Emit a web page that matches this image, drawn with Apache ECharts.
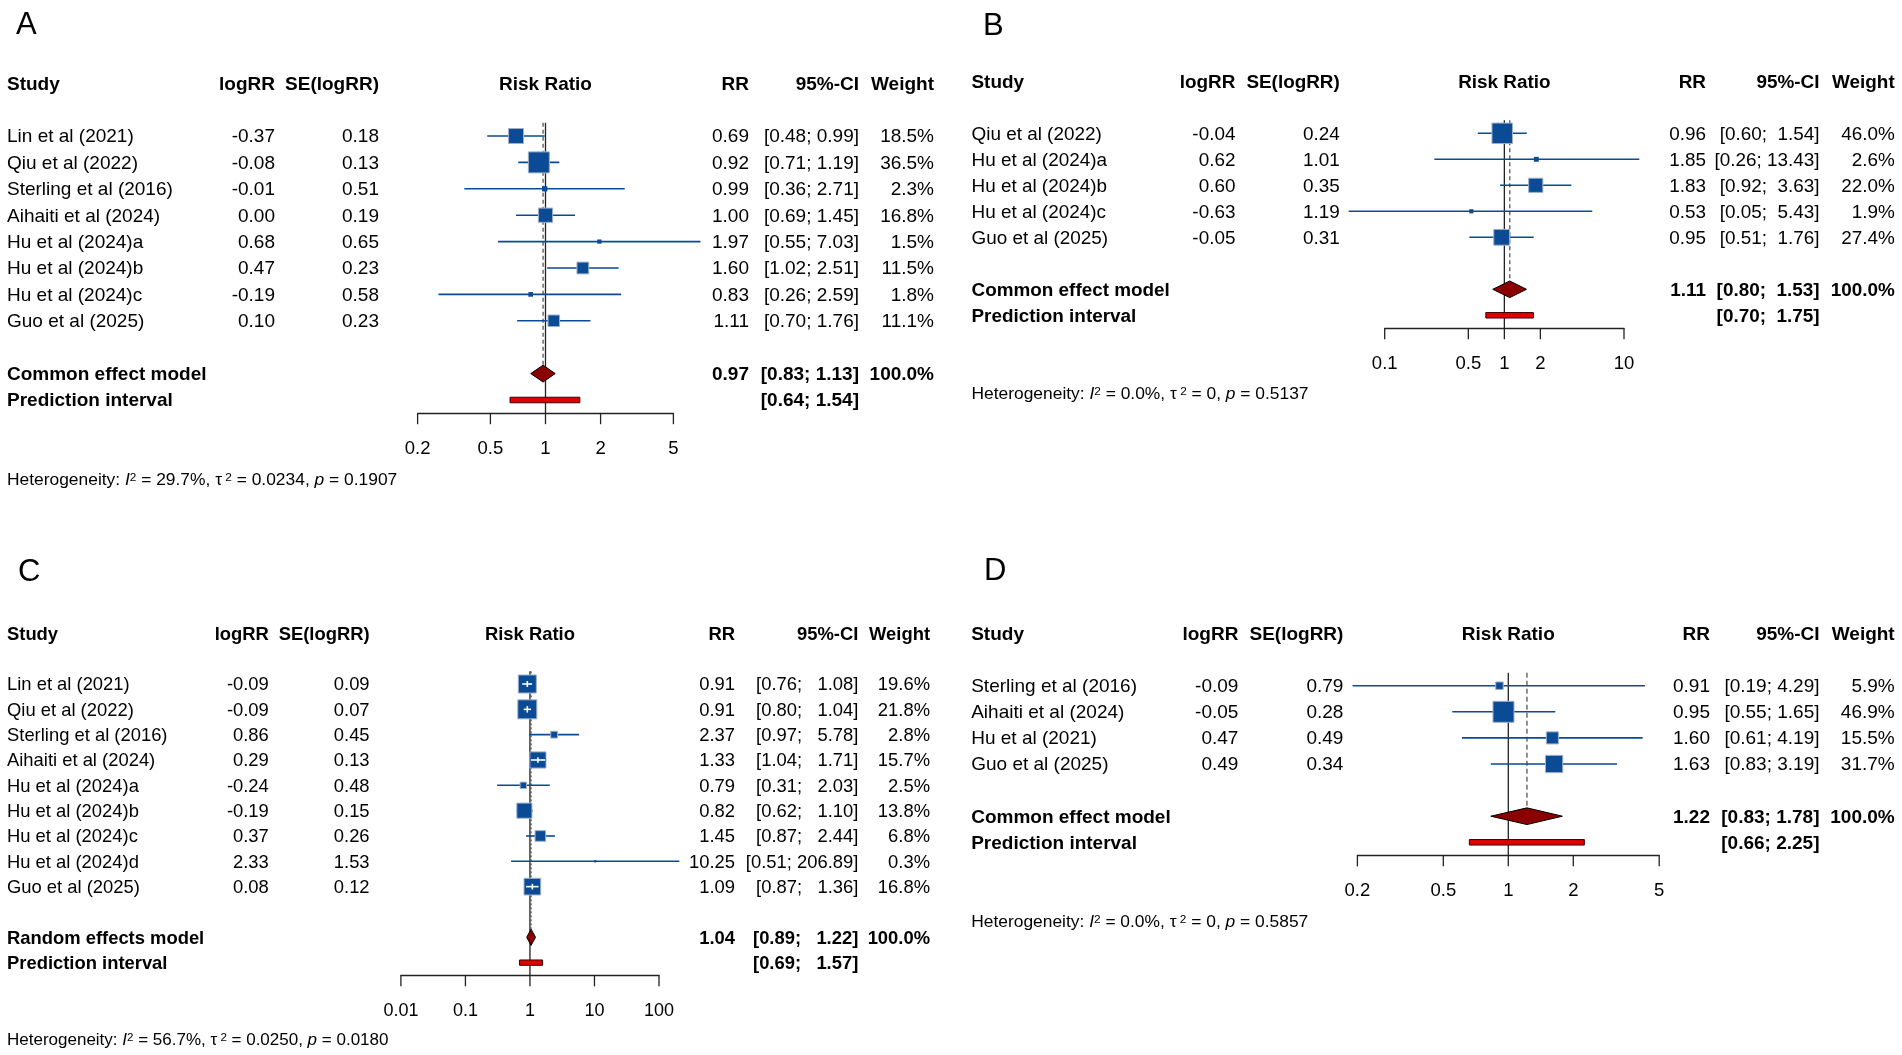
<!DOCTYPE html>
<html><head><meta charset="utf-8">
<script src="https://cdn.jsdelivr.net/npm/echarts@6/dist/echarts.min.js"></script>
<style>html,body{margin:0;padding:0;background:#fff}#chart{width:1902px;height:1055px}</style>
</head><body><div id="chart"></div>
<script>
// ---------- Panel A ----------
const studiesA = ["Lin et al (2021)", "Qiu et al (2022)", "Sterling et al (2016)", "Aihaiti et al (2024)", "Hu et al (2024)a", "Hu et al (2024)b", "Hu et al (2024)c", "Guo et al (2025)"];
const logRRA = [-0.37, -0.08, -0.01, 0.00, 0.68, 0.47, -0.19, 0.10];
const seA = [0.18, 0.13, 0.51, 0.19, 0.65, 0.23, 0.58, 0.23];
const rrA = [0.69, 0.92, 0.99, 1.00, 1.97, 1.60, 0.83, 1.11];
const loA = [0.48, 0.71, 0.36, 0.69, 0.55, 1.02, 0.26, 0.70];
const hiA = [0.99, 1.19, 2.71, 1.45, 7.03, 2.51, 2.59, 1.76];
const weightA = [18.5, 36.5, 2.3, 16.8, 1.5, 11.5, 1.8, 11.1];
const pooledA = [0.97, 0.83, 1.13];
const predA = [0.64, 1.54];
const hetA = ["29.7%", "0.0234", "0.1907"];
const ticksA = [0.2, 0.5, 1, 2, 5];
const modelA = "Common effect model";

// ---------- Panel B ----------
const studiesB = ["Qiu et al (2022)", "Hu et al (2024)a", "Hu et al (2024)b", "Hu et al (2024)c", "Guo et al (2025)"];
const logRRB = [-0.04, 0.62, 0.60, -0.63, -0.05];
const seB = [0.24, 1.01, 0.35, 1.19, 0.31];
const rrB = [0.96, 1.85, 1.83, 0.53, 0.95];
const loB = [0.60, 0.26, 0.92, 0.05, 0.51];
const hiB = [1.54, 13.43, 3.63, 5.43, 1.76];
const weightB = [46.0, 2.6, 22.0, 1.9, 27.4];
const pooledB = [1.11, 0.80, 1.53];
const predB = [0.70, 1.75];
const hetB = ["0.0%", "0", "0.5137"];
const ticksB = [0.1, 0.5, 1, 2, 10];
const modelB = "Common effect model";

// ---------- Panel C ----------
const studiesC = ["Lin et al (2021)", "Qiu et al (2022)", "Sterling et al (2016)", "Aihaiti et al (2024)", "Hu et al (2024)a", "Hu et al (2024)b", "Hu et al (2024)c", "Hu et al (2024)d", "Guo et al (2025)"];
const logRRC = [-0.09, -0.09, 0.86, 0.29, -0.24, -0.19, 0.37, 2.33, 0.08];
const seC = [0.09, 0.07, 0.45, 0.13, 0.48, 0.15, 0.26, 1.53, 0.12];
const rrC = [0.91, 0.91, 2.37, 1.33, 0.79, 0.82, 1.45, 10.25, 1.09];
const loC = [0.76, 0.80, 0.97, 1.04, 0.31, 0.62, 0.87, 0.51, 0.87];
const hiC = [1.08, 1.04, 5.78, 1.71, 2.03, 1.10, 2.44, 206.89, 1.36];
const weightC = [19.6, 21.8, 2.8, 15.7, 2.5, 13.8, 6.8, 0.3, 16.8];
const pooledC = [1.04, 0.89, 1.22];
const predC = [0.69, 1.57];
const hetC = ["56.7%", "0.0250", "0.0180"];
const ticksC = [0.01, 0.1, 1, 10, 100];
const modelC = "Random effects model";

// ---------- Panel D ----------
const studiesD = ["Sterling et al (2016)", "Aihaiti et al (2024)", "Hu et al (2021)", "Guo et al (2025)"];
const logRRD = [-0.09, -0.05, 0.47, 0.49];
const seD = [0.79, 0.28, 0.49, 0.34];
const rrD = [0.91, 0.95, 1.60, 1.63];
const loD = [0.19, 0.55, 0.61, 0.83];
const hiD = [4.29, 1.65, 4.19, 3.19];
const weightD = [5.9, 46.9, 15.5, 31.7];
const pooledD = [1.22, 0.83, 1.78];
const predD = [0.66, 2.25];
const hetD = ["0.0%", "0", "0.5857"];
const ticksD = [0.2, 0.5, 1, 2, 5];
const modelD = "Common effect model";

// ---------- layout (pixels) ----------
const FONT = '"Liberation Sans", Arial, Helvetica, sans-serif';
const BLUE = '#0B4A95';
const TY = 1.2; // small downward nudge for text visual centring
const layouts = {
  A: {letter:[16,24], cols:{study:7, logRR:275, se:379, rr:749, ci:859, w:934}, xpx:[417.6,673.4], row0:136, step:26.4, fs:19, hetFs:17.4, tickFs:18.5, sqMax:21, dash:[4,3]},
  B: {letter:[983,25], cols:{study:971.5, logRR:1235.4, se:1339.8, rr:1706, ci:1819.5, w:1894.7}, xpx:[1384.7,1624], row0:133.3, step:26, fs:18.9, hetFs:17.4, tickFs:18.5, sqMax:20.5, dash:[4,3]},
  C: {letter:[18,571.5], cols:{study:7, logRR:268.8, se:369.6, rr:735, ci:858.3, w:930}, xpx:[400.9,659], row0:684, step:25.33, fs:18.4, hetFs:17, tickFs:18, sqMax:19, dash:[2,2]},
  D: {letter:[984,570.5], cols:{study:971.2, logRR:1238.4, se:1343.4, rr:1710, ci:1819.5, w:1894.7}, xpx:[1357.4,1659.2], row0:685.7, step:26.1, fs:19, hetFs:17.4, tickFs:18.5, sqMax:21, dash:[5,3]}
};

const panels = [
  {key:'A', studies:studiesA, logRR:logRRA, se:seA, rr:rrA, lo:loA, hi:hiA, weight:weightA, pooled:pooledA, pred:predA, het:hetA, ticks:ticksA, model:modelA},
  {key:'B', studies:studiesB, logRR:logRRB, se:seB, rr:rrB, lo:loB, hi:hiB, weight:weightB, pooled:pooledB, pred:predB, het:hetB, ticks:ticksB, model:modelB},
  {key:'C', studies:studiesC, logRR:logRRC, se:seC, rr:rrC, lo:loC, hi:hiC, weight:weightC, pooled:pooledC, pred:predC, het:hetC, ticks:ticksC, model:modelC},
  {key:'D', studies:studiesD, logRR:logRRD, se:seD, rr:rrD, lo:loD, hi:hiD, weight:weightD, pooled:pooledD, pred:predD, het:hetD, ticks:ticksD, model:modelD}
];

function f2(v){ return v.toFixed(2); }
function ciStrings(lo, hi){
  const loS = lo.map(f2), hiS = hi.map(f2);
  const mlo = Math.max(...loS.map(s=>s.length)), mhi = Math.max(...hiS.map(s=>s.length));
  return loS.map((l,i)=>'[' + ' '.repeat(mlo-l.length) + l + '; ' + ' '.repeat(mhi-hiS[i].length) + hiS[i] + ']');
}
function txt(text, x, y, align, fs, bold, extra){
  const st = {text:text, x:x, y:y + TY, align:align, verticalAlign:'middle', fontSize:fs, fontFamily:FONT, fontWeight:bold?'bold':'normal', fill:'#000'};
  if (extra) Object.assign(st, extra);
  return {type:'text', style:st};
}

const grids = [], xAxes = [], yAxes = [], series = [];

panels.forEach((P, pi) => {
  const L = layouts[P.key];
  const k = P.studies.length;
  const sumRow = k + 1, predRow = k + 2, axisRow = k + 2.5, hetRow = k + 5, headRow = -2;
  const cis = ciStrings(P.lo.concat([P.pooled[1], P.pred[0]]), P.hi.concat([P.pooled[2], P.pred[1]]));
  const maxW = Math.max(...P.weight);
  const C = L.cols;

  grids.push({left:L.xpx[0], width:L.xpx[1]-L.xpx[0], top:L.row0 - 0.5*L.step, height:(k+3)*L.step, outerBoundsMode:'none', containLabel:false});
  xAxes.push({type:'log', logBase:10, gridIndex:pi, min:P.ticks[0], max:P.ticks[P.ticks.length-1], position:'bottom',
    axisLine:{show:true, onZero:false, lineStyle:{color:'#222', width:1.3}}, axisTick:{show:false}, axisLabel:{show:false}, splitLine:{show:false}});
  yAxes.push({type:'value', gridIndex:pi, inverse:true, min:-0.5, max:axisRow, show:false});

  // reference lines, ticks, tick labels
  series.push({type:'custom', xAxisIndex:pi, yAxisIndex:pi, z:1, silent:true, animation:false,
    data:[[1, -0.5]], encode:{x:0, y:1},
    renderItem:function(params, api){
      const ch = [];
      const top = api.coord([1, -0.5]);
      const bot = api.coord([1, axisRow]);
      ch.push({type:'line', shape:{x1:top[0], y1:top[1], x2:bot[0], y2:bot[1]}, style:{stroke:'#222', lineWidth:1.3}});
      const dh = 0.32*L.step;
      const pt = api.coord([P.pooled[0], -0.5]);
      const pb = api.coord([P.pooled[0], sumRow]);
      ch.push({type:'line', shape:{x1:pt[0], y1:pt[1], x2:pb[0], y2:pb[1]-dh}, style:{stroke:'#555', lineWidth:1.3, lineDash:L.dash}});
      P.ticks.forEach(t => {
        const c = api.coord([t, axisRow]);
        ch.push({type:'line', shape:{x1:c[0], y1:c[1], x2:c[0], y2:c[1]+11}, style:{stroke:'#222', lineWidth:1.3}});
        ch.push(txt(String(t), c[0], c[1]+34.4, 'center', L.tickFs, false));
      });
      return {type:'group', children:ch};
    }
  });

  // study rows
  series.push({type:'custom', xAxisIndex:pi, yAxisIndex:pi, z:2, silent:true, animation:false,
    data:P.rr.map((v,i)=>[v, i, P.lo[i], P.hi[i], P.weight[i]]), encode:{x:0, y:1},
    renderItem:function(params, api){
      const i = params.dataIndex;
      const rr = api.value(0), row = api.value(1), lo = api.value(2), hi = api.value(3), w = api.value(4);
      const c = api.coord([rr, row]); const y = c[1];
      const xl = api.coord([lo, row])[0], xh = api.coord([hi, row])[0];
      const s = L.sqMax*Math.sqrt(w/maxW);
      const ch = [];
      ch.push({type:'line', shape:{x1:xl, y1:y, x2:xh, y2:y}, style:{stroke:BLUE, lineWidth:1.6}});
      ch.push({type:'rect', shape:{x:c[0]-s/2, y:y-s/2, width:s, height:s}, style:{fill:BLUE, stroke:s>6?'#9fb0c8':null, lineWidth:1}});
      if (xl >= c[0]-s/2 && xh <= c[0]+s/2) {
        ch.push({type:'line', shape:{x1:xl, y1:y, x2:xh, y2:y}, style:{stroke:'#fff', lineWidth:1.6}});
        ch.push({type:'line', shape:{x1:c[0], y1:y-s*0.17, x2:c[0], y2:y+s*0.17}, style:{stroke:'#fff', lineWidth:1.6}});
      }
      ch.push(txt(P.studies[i], C.study, y, 'left', L.fs, false));
      ch.push(txt(f2(P.logRR[i]), C.logRR, y, 'right', L.fs, false));
      ch.push(txt(f2(P.se[i]), C.se, y, 'right', L.fs, false));
      ch.push(txt(f2(P.rr[i]), C.rr, y, 'right', L.fs, false));
      ch.push(txt(cis[i], C.ci, y, 'right', L.fs, false));
      ch.push(txt(P.weight[i].toFixed(1)+'%', C.w, y, 'right', L.fs, false));
      return {type:'group', children:ch};
    }
  });

  // pooled estimate and prediction interval
  series.push({type:'custom', xAxisIndex:pi, yAxisIndex:pi, z:3, silent:true, animation:false,
    data:[[P.pooled[0], sumRow, P.pooled[1], P.pooled[2], P.pred[0], P.pred[1]]], encode:{x:0, y:1},
    renderItem:function(params, api){
      const ch = [];
      const c = api.coord([api.value(0), api.value(1)]); const y = c[1];
      const xl = api.coord([api.value(2), sumRow])[0], xh = api.coord([api.value(3), sumRow])[0];
      const dh = 0.32*L.step;
      ch.push({type:'polygon', shape:{points:[[xl,y],[c[0],y-dh],[xh,y],[c[0],y+dh]]}, style:{fill:'#8B0000', stroke:'#000', lineWidth:1}});
      const yp = api.coord([1, predRow])[1];
      const pl = api.coord([api.value(4), predRow])[0], ph = api.coord([api.value(5), predRow])[0];
      const hh = 0.21*L.step;
      ch.push({type:'rect', shape:{x:pl, y:yp-hh/2, width:ph-pl, height:hh}, style:{fill:'#E00000', stroke:'#3a0000', lineWidth:1}});
      ch.push(txt(P.model, C.study, y, 'left', L.fs, true));
      ch.push(txt(f2(P.pooled[0]), C.rr, y, 'right', L.fs, true));
      ch.push(txt(cis[k], C.ci, y, 'right', L.fs, true));
      ch.push(txt('100.0%', C.w, y, 'right', L.fs, true));
      ch.push(txt('Prediction interval', C.study, yp, 'left', L.fs, true));
      ch.push(txt(cis[k+1], C.ci, yp, 'right', L.fs, true));
      return {type:'group', children:ch};
    }
  });

  // header, panel letter, heterogeneity
  series.push({type:'custom', xAxisIndex:pi, yAxisIndex:pi, z:3, silent:true, animation:false,
    data:[[1, headRow]], encode:{x:0, y:1},
    renderItem:function(params, api){
      const ch = [];
      const c = api.coord([1, headRow]); const y = c[1];
      ch.push(txt(P.key, L.letter[0], L.letter[1], 'left', 31, false));
      ch.push(txt('Study', C.study, y, 'left', L.fs, true));
      ch.push(txt('logRR', C.logRR, y, 'right', L.fs, true));
      ch.push(txt('SE(logRR)', C.se, y, 'right', L.fs, true));
      ch.push(txt('Risk Ratio', c[0], y, 'center', L.fs, true));
      ch.push(txt('RR', C.rr, y, 'right', L.fs, true));
      ch.push(txt('95%-CI', C.ci, y, 'right', L.fs, true));
      ch.push(txt('Weight', C.w, y, 'right', L.fs, true));
      const yh = api.coord([1, hetRow])[1];
      const hs = L.hetFs;
      ch.push(txt('Heterogeneity: {it|I}{sup|2} = ' + P.het[0] + ', \u03c4{sup| 2} = ' + P.het[1] + ', {it|p} = ' + P.het[2],
        C.study, yh, 'left', hs, false, {rich:{
          it:{fontStyle:'italic', fontSize:hs, fontFamily:FONT, fill:'#000'},
          sup:{fontSize:hs*0.68, fontFamily:FONT, fill:'#000', verticalAlign:'top'}
        }}));
      return {type:'group', children:ch};
    }
  });
});

const chart = echarts.init(document.getElementById('chart'), null, {renderer:'canvas'});
chart.setOption({
  backgroundColor:'#fff',
  animation:false,
  grid:grids,
  xAxis:xAxes,
  yAxis:yAxes,
  series:series
});
</script>
</body></html>
